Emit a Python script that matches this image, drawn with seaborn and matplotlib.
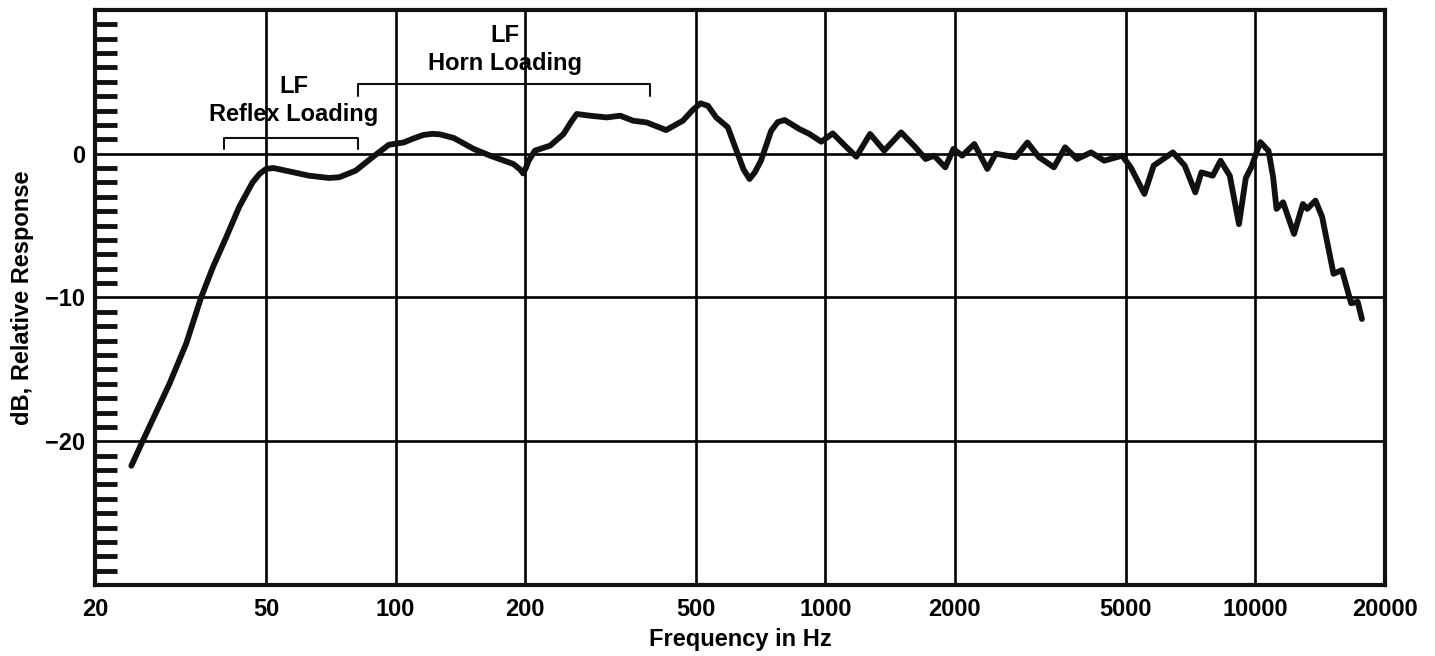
import numpy as np
import pandas as pd
import seaborn as sns
import matplotlib.pyplot as plt
from matplotlib.ticker import FixedLocator, NullLocator

# Frequency response (Hz, dB)
freq = [24.3, 25.8, 29.8, 32.6, 35.3, 37.6, 40.4, 43.3, 46.5, 48.3, 50, 52,
        54.6, 62.9, 70, 74, 80.8, 88.3, 96.5, 104.5, 110, 116, 122, 127,
        136.6, 152, 166, 188, 195, 198, 201, 204, 211, 229, 246, 256, 264,
        283, 310, 333, 357, 384, 426, 466, 490, 512, 533, 557, 593, 621, 645,
        666, 685, 708, 748, 775, 804, 870, 918, 978, 1040, 1110, 1180,
        1270, 1370, 1500, 1620, 1710, 1790, 1900, 1985, 2080, 2220, 2380,
        2490, 2770, 2950, 3140, 3400, 3610, 3850, 4150, 4450, 4900, 5130,
        5520, 5800, 6430, 6850, 7250, 7490, 7960, 8300, 8720, 9160, 9500,
        9800, 10000, 10270, 10730, 11000, 11200, 11600, 12300, 12900, 13200,
        13800, 14300, 15200, 15900, 16700, 17300, 17700]
db = [-21.7, -20.0, -16.0, -13.2, -10.0, -7.9, -5.8, -3.7, -2.0, -1.4, -1.06,
      -1.0, -1.13, -1.53, -1.69, -1.64, -1.18, -0.26, 0.62, 0.78, 1.05, 1.3,
      1.38, 1.34, 1.09, 0.33, -0.14, -0.72, -1.1, -1.37, -1.0, -0.49, 0.21,
      0.56, 1.37, 2.2, 2.76, 2.64, 2.52, 2.64, 2.29, 2.17, 1.64, 2.29, 3.0,
      3.5, 3.33, 2.52, 1.83, 0.21, -1.1, -1.76, -1.3, -0.49, 1.6, 2.2, 2.34,
      1.71, 1.37, 0.83, 1.41, 0.56, -0.21, 1.37, 0.21, 1.48, 0.44,
      -0.37, -0.14, -0.95, 0.33, -0.14, 0.67, -1.06, 0.0, -0.25, 0.78, -0.25,
      -0.95, 0.44, -0.37, 0.09, -0.49, -0.14, -0.95, -2.8, -0.83, 0.09, -0.83,
      -2.69, -1.3, -1.53, -0.49, -1.53, -4.9, -1.7, -0.9, -0.14, 0.8, 0.2,
      -1.64, -3.84, -3.38, -5.58, -3.5, -3.84, -3.26, -4.4, -8.35, -8.1,
      -10.4, -10.3, -11.5]

x_ticks = [20, 50, 100, 200, 500, 1000, 2000, 5000, 10000, 20000]
x_grid = [50, 100, 200, 500, 1000, 2000, 5000, 10000]
y_ticks = [0, -10, -20]

# annotation brackets: (start Hz, end Hz, level dB, tick drop dB)
reflex_bracket = (40, 82, 1.1, 0.75)
horn_bracket = (82, 390, 4.86, 0.85)

df = pd.DataFrame({"freq": freq, "db": db})

sns.set_style("white")
plt.rcParams['font.family'] = ['Liberation Sans', 'DejaVu Sans']
plt.rcParams['font.weight'] = 'bold'
plt.rcParams['text.color'] = 'black'
plt.rcParams['axes.labelcolor'] = 'black'
plt.rcParams['xtick.color'] = 'black'
plt.rcParams['ytick.color'] = 'black'

fs = 17

fig = plt.figure(figsize=(14.35, 6.56), dpi=100)
ax = fig.add_axes([0.0662, 0.108, 0.8988, 0.877])

for f in x_grid:
    ax.axvline(f, color='black', lw=1.9, zorder=1)
for v in y_ticks:
    ax.axhline(v, color='black', lw=1.9, zorder=1)

sns.lineplot(data=df, x="freq", y="db", ax=ax, color='#111111', lw=4.2,
             solid_joinstyle='round', solid_capstyle='round', zorder=3)

ax.set_xscale('log')
ax.set_xlim(20, 20000)
ax.set_ylim(-30, 10)

ax.xaxis.set_major_locator(FixedLocator(x_ticks))
ax.xaxis.set_minor_locator(NullLocator())
ax.set_xticklabels([str(t) for t in x_ticks])
ax.yaxis.set_major_locator(FixedLocator(y_ticks))
ax.set_yticklabels(['0', '\u221210', '\u221220'])
ax.yaxis.set_minor_locator(FixedLocator([v for v in range(-29, 10) if v % 10 != 0]))

ax.tick_params(axis='x', which='major', length=0, pad=9, labelsize=fs)
ax.tick_params(axis='y', which='major', length=0, pad=7, labelsize=fs)
ax.tick_params(axis='y', which='minor', direction='in', length=16, width=3.5,
               color='#111111', left=True)

for s in ax.spines.values():
    s.set_linewidth(3)
    s.set_color('#111111')

ax.set_xlabel('Frequency in Hz', fontsize=fs, fontweight='bold', labelpad=5)
ax.set_ylabel('dB, Relative Response', fontsize=fs, fontweight='bold', labelpad=8)

for x0, x1, lev, drop in [reflex_bracket, horn_bracket]:
    ax.plot([x0, x0, x1, x1], [lev - drop, lev, lev, lev - drop],
            color='#111111', lw=1.5, zorder=2)

ax.text(58, 4.7, 'LF', ha='center', va='center', fontsize=fs, fontweight='bold')
ax.text(58, 2.7, 'Reflex Loading', ha='center', va='center', fontsize=fs, fontweight='bold')
ax.text(180, 8.2, 'LF', ha='center', va='center', fontsize=fs, fontweight='bold')
ax.text(180, 6.25, 'Horn Loading', ha='center', va='center', fontsize=fs, fontweight='bold')

fig.savefig('out.png', dpi=100)
